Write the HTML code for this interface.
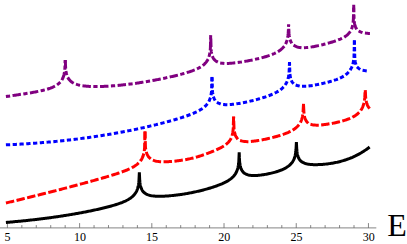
<!DOCTYPE html>
<html><head><meta charset="utf-8"><title>plot</title><style>
html,body{margin:0;padding:0;background:#fff;}
body{width:407px;height:244px;overflow:hidden;position:relative;font-family:"Liberation Serif",serif;}
</style></head><body>
<svg width="407" height="244" viewBox="0 0 407 244" style="position:absolute;left:0;top:0">
<g stroke="#666" stroke-width="0.8" fill="none">
<path d="M0,227.9 H376.3"/>
<path d="M7.40,227.9 v-4.8 M21.84,227.9 v-2.8 M36.28,227.9 v-2.8 M50.73,227.9 v-2.8 M65.17,227.9 v-2.8 M79.61,227.9 v-4.8 M94.05,227.9 v-2.8 M108.49,227.9 v-2.8 M122.94,227.9 v-2.8 M137.38,227.9 v-2.8 M151.82,227.9 v-4.8 M166.26,227.9 v-2.8 M180.70,227.9 v-2.8 M195.15,227.9 v-2.8 M209.59,227.9 v-2.8 M224.03,227.9 v-4.8 M238.47,227.9 v-2.8 M252.91,227.9 v-2.8 M267.36,227.9 v-2.8 M281.80,227.9 v-2.8 M296.24,227.9 v-4.8 M310.68,227.9 v-2.8 M325.12,227.9 v-2.8 M339.57,227.9 v-2.8 M354.01,227.9 v-2.8 M368.45,227.9 v-4.8"/>
</g>
<clipPath id="cl_purple"><path clip-rule="evenodd" d="M0,0H407V244H0ZM60.2,51.9h10v8h-10ZM205.7,26.7h10v8h-10ZM283.6,16.4h10v8h-10ZM348.7,-3.3h10v8h-10Z"/></clipPath>
<g clip-path="url(#cl_purple)" fill="none" stroke="#800080" stroke-width="3.0" stroke-linecap="square" stroke-linejoin="miter" stroke-miterlimit="10">
<path d="M7.4,96.34L8.4,96.2L9.4,96.05L10.4,95.91L11.4,95.76L12.4,95.62L13.4,95.47L14.4,95.33L15.4,95.18L16.4,95.03L17.4,94.88L18.4,94.73L19.4,94.58L20.4,94.43L21.4,94.28L22.4,94.12L23.4,93.97L24.4,93.81L25.4,93.65L26.4,93.49L27.4,93.33L28.4,93.16L29.4,92.99L30.4,92.82L31.4,92.65L32.4,92.47L33.4,92.29L34.4,92.11L35.4,91.92L36.4,91.72L37.4,91.53L38.4,91.32L39.4,91.11L40.4,90.89L41.4,90.67L42.4,90.44L43.4,90.2L44.4,89.94L45.4,89.68L46.4,89.4L47.4,89.11L48.4,88.8L49.4,88.47L50.4,88.12L51.4,87.74L52.4,87.33L53.4,86.89L54.4,86.4L55.4,85.87L56.4,85.27L57.4,84.6L58.4,83.84L59.4,82.96L60.4,81.91L61.4,80.63L61.75,80.11L62.4,78.99L62.75,78.28L63.4,76.66L63.45,76.52L63.95,74.8L64.35,72.89L64.4,72.59L64.65,70.81L64.85,68.74L65.25,60" stroke-dasharray="1.25 5.45 5.45 5.45" stroke-dashoffset="0.000"/>
<path d="M65.25,60L65.65,68.09L65.85,70.13L66.15,72.17L66.4,73.41L66.55,74.03L67.05,75.67L67.4,76.57L67.75,77.33L68.4,78.49L68.75,79.02L69.4,79.87L70.4,80.92L71.4,81.77L72.4,82.46L73.4,83.05L74.4,83.54L75.4,83.97L76.4,84.33L77.4,84.65L78.4,84.92L79.4,85.17L80.4,85.38L81.4,85.56L82.4,85.72L83.4,85.86L84.4,85.98L85.4,86.09L86.4,86.18L87.4,86.26L88.4,86.33L89.4,86.39L90.4,86.43L91.4,86.47L92.4,86.5L93.4,86.52L94.4,86.53L95.4,86.54L96.4,86.54L97.4,86.54L98.4,86.52L99.4,86.51L100.4,86.49L101.4,86.46L102.4,86.43L103.4,86.39L104.4,86.35L105.4,86.3L106.4,86.25L107.4,86.2L108.4,86.14L109.4,86.08L110.4,86.01L111.4,85.95L112.4,85.87L113.4,85.8L114.4,85.72L115.4,85.63L116.4,85.55L117.4,85.46L118.4,85.37L119.4,85.27L120.4,85.17L121.4,85.07L122.4,84.96L123.4,84.86L124.4,84.74L125.4,84.63L126.4,84.51L127.4,84.39L128.4,84.27L129.4,84.15L130.4,84.02L131.4,83.89L132.4,83.76L133.4,83.62L134.4,83.48L135.4,83.34L136.4,83.2L137.4,83.05L138.4,82.9L139.4,82.75L140.4,82.6L141.4,82.44L142.4,82.28L143.4,82.12L144.4,81.96L145.4,81.79L146.4,81.63L147.4,81.46L148.4,81.28L149.4,81.11L150.4,80.93L151.4,80.75L152.4,80.57L153.4,80.38L154.4,80.2L155.4,80.01L156.4,79.82L157.4,79.62L158.4,79.43L159.4,79.23L160.4,79.03L161.4,78.82L162.4,78.62L163.4,78.41L164.4,78.2L165.4,77.99L166.4,77.77L167.4,77.55L168.4,77.33L169.4,77.11L170.4,76.88L171.4,76.65L172.4,76.42L173.4,76.19L174.4,75.95L175.4,75.71L176.4,75.46L177.4,75.21L178.4,74.96L179.4,74.7L180.4,74.44L181.4,74.17L182.4,73.9L183.4,73.63L184.4,73.35L185.4,73.06L186.4,72.76L187.4,72.46L188.4,72.14L189.4,71.82L190.4,71.49L191.4,71.15L192.4,70.79L193.4,70.41L194.4,70.02L195.4,69.61L196.4,69.17L197.4,68.71L198.4,68.22L199.4,67.68L200.4,67.11L201.4,66.47L202.4,65.78L203.4,65L204.4,64.11L205.4,63.08L206.4,61.86L207.2,60.68L207.4,60.35L208.2,58.79L208.4,58.33L208.9,57L209.4,55.25L209.4,55.25L209.8,53.32L210.1,51.22L210.3,49.14L210.4,47.68L210.7,34.8" stroke-dasharray="1.25 5.45 5.45 5.45" stroke-dashoffset="5.100"/>
<path d="M210.7,34.8L211.1,49.24L211.3,51.23L211.4,51.99L211.6,53.21L212,54.97L212.4,56.23L212.5,56.5L213.2,58L213.4,58.34L214.2,59.46L214.4,59.69L215.4,60.65L216.4,61.36L217.4,61.91L218.4,62.33L219.4,62.65L220.4,62.9L221.4,63.09L222.4,63.23L223.4,63.33L224.4,63.39L225.4,63.43L226.4,63.44L227.4,63.43L228.4,63.39L229.4,63.35L230.4,63.28L231.4,63.21L232.4,63.12L233.4,63.02L234.4,62.92L235.4,62.8L236.4,62.68L237.4,62.55L238.4,62.41L239.4,62.27L240.4,62.12L241.4,61.97L242.4,61.81L243.4,61.65L244.4,61.48L245.4,61.31L246.4,61.13L247.4,60.95L248.4,60.76L249.4,60.57L250.4,60.37L251.4,60.17L252.4,59.97L253.4,59.76L254.4,59.54L255.4,59.32L256.4,59.09L257.4,58.86L258.4,58.63L259.4,58.38L260.4,58.13L261.4,57.87L262.4,57.61L263.4,57.34L264.4,57.06L265.4,56.76L266.4,56.46L267.4,56.15L268.4,55.82L269.4,55.48L270.4,55.13L271.4,54.75L272.4,54.36L273.4,53.94L274.4,53.5L275.4,53.02L276.4,52.52L277.4,51.97L278.4,51.37L279.4,50.71L280.4,49.99L281.4,49.18L282.4,48.25L283.4,47.18L284.4,45.9L285.1,44.84L285.4,44.32L286.1,42.91L286.4,42.2L286.8,41.09L287.3,39.33L287.4,38.9L287.7,37.38L288,35.26L288.2,33.18L288.4,29.65L288.6,24.5" stroke-dasharray="1.25 5.45 5.45 5.45" stroke-dashoffset="1.400"/>
<path d="M288.6,24.5L289,33.19L289.2,35.19L289.4,36.61L289.5,37.19L289.9,38.98L290.4,40.54L290.4,40.54L291.1,42.08L291.4,42.6L292.1,43.6L292.4,43.95L293.4,44.93L294.4,45.66L295.4,46.22L296.4,46.65L297.4,46.98L298.4,47.23L299.4,47.42L300.4,47.56L301.4,47.64L302.4,47.69L303.4,47.7L304.4,47.69L305.4,47.64L306.4,47.58L307.4,47.49L308.4,47.39L309.4,47.27L310.4,47.13L311.4,46.98L312.4,46.82L313.4,46.65L314.4,46.47L315.4,46.27L316.4,46.07L317.4,45.86L318.4,45.65L319.4,45.43L320.4,45.2L321.4,44.96L322.4,44.72L323.4,44.47L324.4,44.21L325.4,43.95L326.4,43.68L327.4,43.41L328.4,43.13L329.4,42.85L330.4,42.56L331.4,42.26L332.4,41.95L333.4,41.63L334.4,41.3L335.4,40.96L336.4,40.61L337.4,40.25L338.4,39.86L339.4,39.46L340.4,39.03L341.4,38.57L342.4,38.08L343.4,37.55L344.4,36.97L345.4,36.33L346.4,35.61L347.4,34.79L348.4,33.83L349.4,32.69L350.2,31.57L350.4,31.25L351.2,29.77L351.4,29.33L351.9,28.04L352.4,26.35L352.8,24.45L353.1,22.38L353.3,20.33L353.4,18.87L353.7,4.4" stroke-dasharray="1.25 5.45 5.45 5.45" stroke-dashoffset="1.000"/>
<path d="M353.7,4.4L354.1,19.94L354.3,21.9L354.4,22.63L354.6,23.82L355,25.52L355.4,26.73L355.5,26.98L356.2,28.39L356.4,28.7L357.2,29.73L357.4,29.94L358.4,30.79L359.4,31.41L360.4,31.89L361.4,32.25L362.4,32.53L363.4,32.76L364.4,32.94L365.4,33.08L366.4,33.21L367.4,33.31L368.4,33.4L368.45,33.4" stroke-dasharray="1.25 5.45 5.45 5.45" stroke-dashoffset="5.840"/>
</g>
<clipPath id="cl_blue"><path clip-rule="evenodd" d="M0,0H407V244H0ZM207.0,68.8h10v8h-10ZM284.5,53.9h10v8h-10ZM349.4,32.1h10v8h-10Z"/></clipPath>
<g clip-path="url(#cl_blue)" fill="none" stroke="#0000ff" stroke-width="3.0" stroke-linecap="square" stroke-linejoin="miter" stroke-miterlimit="10">
<path d="M7.4,144.79L8.4,144.74L9.4,144.7L10.4,144.65L11.4,144.61L12.4,144.56L13.4,144.51L14.4,144.46L15.4,144.41L16.4,144.36L17.4,144.3L18.4,144.25L19.4,144.19L20.4,144.13L21.4,144.08L22.4,144.02L23.4,143.96L24.4,143.9L25.4,143.84L26.4,143.77L27.4,143.71L28.4,143.64L29.4,143.58L30.4,143.51L31.4,143.44L32.4,143.37L33.4,143.3L34.4,143.23L35.4,143.15L36.4,143.08L37.4,143L38.4,142.93L39.4,142.85L40.4,142.77L41.4,142.69L42.4,142.61L43.4,142.53L44.4,142.44L45.4,142.36L46.4,142.27L47.4,142.18L48.4,142.1L49.4,142.01L50.4,141.91L51.4,141.82L52.4,141.73L53.4,141.64L54.4,141.54L55.4,141.44L56.4,141.34L57.4,141.25L58.4,141.14L59.4,141.04L60.4,140.94L61.4,140.84L62.4,140.73L63.4,140.62L64.4,140.52L65.4,140.41L66.4,140.3L67.4,140.18L68.4,140.07L69.4,139.96L70.4,139.84L71.4,139.72L72.4,139.61L73.4,139.49L74.4,139.37L75.4,139.24L76.4,139.12L77.4,139L78.4,138.87L79.4,138.74L80.4,138.61L81.4,138.48L82.4,138.35L83.4,138.22L84.4,138.09L85.4,137.95L86.4,137.81L87.4,137.68L88.4,137.54L89.4,137.4L90.4,137.26L91.4,137.11L92.4,136.97L93.4,136.82L94.4,136.67L95.4,136.52L96.4,136.37L97.4,136.22L98.4,136.07L99.4,135.92L100.4,135.76L101.4,135.6L102.4,135.44L103.4,135.28L104.4,135.12L105.4,134.96L106.4,134.79L107.4,134.63L108.4,134.46L109.4,134.29L110.4,134.12L111.4,133.95L112.4,133.78L113.4,133.6L114.4,133.43L115.4,133.25L116.4,133.07L117.4,132.89L118.4,132.71L119.4,132.52L120.4,132.34L121.4,132.15L122.4,131.96L123.4,131.77L124.4,131.58L125.4,131.39L126.4,131.2L127.4,131L128.4,130.8L129.4,130.6L130.4,130.4L131.4,130.2L132.4,130L133.4,129.79L134.4,129.59L135.4,129.38L136.4,129.17L137.4,128.95L138.4,128.74L139.4,128.53L140.4,128.31L141.4,128.09L142.4,127.87L143.4,127.65L144.4,127.42L145.4,127.2L146.4,126.97L147.4,126.74L148.4,126.51L149.4,126.28L150.4,126.04L151.4,125.81L152.4,125.57L153.4,125.33L154.4,125.09L155.4,124.84L156.4,124.6L157.4,124.35L158.4,124.1L159.4,123.85L160.4,123.59L161.4,123.34L162.4,123.08L163.4,122.82L164.4,122.55L165.4,122.29L166.4,122.02L167.4,121.75L168.4,121.48L169.4,121.2L170.4,120.92L171.4,120.64L172.4,120.36L173.4,120.07L174.4,119.78L175.4,119.49L176.4,119.19L177.4,118.89L178.4,118.59L179.4,118.28L180.4,117.97L181.4,117.65L182.4,117.33L183.4,117L184.4,116.67L185.4,116.33L186.4,115.98L187.4,115.63L188.4,115.27L189.4,114.9L190.4,114.52L191.4,114.13L192.4,113.73L193.4,113.31L194.4,112.88L195.4,112.43L196.4,111.96L197.4,111.46L198.4,110.94L199.4,110.39L200.4,109.8L201.4,109.17L202.4,108.49L203.4,107.74L204.4,106.92L205.4,105.99L206.4,104.94L207.4,103.71L208.4,102.22L208.5,102.05L209.4,100.32L209.5,100.09L210.2,98.24L210.4,97.59L210.7,96.46L211.1,94.5L211.4,92.37L211.6,90.28L212,76.8" stroke-dasharray="1.267 5.525" stroke-dashoffset="0.000"/>
<path d="M212,76.8L212.4,90.53L212.6,92.52L212.9,94.5L213.3,96.26L213.4,96.62L213.8,97.8L214.4,99.12L214.5,99.3L215.4,100.64L215.5,100.77L216.4,101.7L217.4,102.48L218.4,103.07L219.4,103.52L220.4,103.87L221.4,104.13L222.4,104.33L223.4,104.48L224.4,104.58L225.4,104.64L226.4,104.67L227.4,104.67L228.4,104.64L229.4,104.6L230.4,104.53L231.4,104.45L232.4,104.36L233.4,104.25L234.4,104.13L235.4,104L236.4,103.86L237.4,103.7L238.4,103.55L239.4,103.38L240.4,103.2L241.4,103.02L242.4,102.84L243.4,102.64L244.4,102.44L245.4,102.23L246.4,102.02L247.4,101.81L248.4,101.58L249.4,101.35L250.4,101.12L251.4,100.88L252.4,100.64L253.4,100.39L254.4,100.13L255.4,99.87L256.4,99.6L257.4,99.33L258.4,99.05L259.4,98.77L260.4,98.47L261.4,98.17L262.4,97.87L263.4,97.55L264.4,97.23L265.4,96.9L266.4,96.55L267.4,96.2L268.4,95.83L269.4,95.45L270.4,95.06L271.4,94.65L272.4,94.23L273.4,93.78L274.4,93.31L275.4,92.81L276.4,92.28L277.4,91.72L278.4,91.12L279.4,90.46L280.4,89.75L281.4,88.97L282.4,88.09L283.4,87.11L284.4,85.97L285.4,84.62L286,83.66L286.4,82.94L287,81.69L287.4,80.7L287.7,79.84L288.2,78.05L288.4,77.15L288.6,76.08L288.9,73.95L289.1,71.86L289.5,62" stroke-dasharray="1.242 5.416" stroke-dashoffset="5.192"/>
<path d="M289.5,62L289.9,73.25L290.1,75.21L290.4,77.14L290.8,78.85L291.3,80.31L291.4,80.55L292,81.72L292.4,82.33L293,83.06L293.4,83.47L294.4,84.27L295.4,84.85L296.4,85.28L297.4,85.6L298.4,85.84L299.4,86.02L300.4,86.14L301.4,86.22L302.4,86.26L303.4,86.27L304.4,86.26L305.4,86.23L306.4,86.17L307.4,86.1L308.4,86.01L309.4,85.91L310.4,85.79L311.4,85.65L312.4,85.51L313.4,85.35L314.4,85.18L315.4,85L316.4,84.81L317.4,84.62L318.4,84.41L319.4,84.2L320.4,83.98L321.4,83.76L322.4,83.52L323.4,83.29L324.4,83.04L325.4,82.8L326.4,82.54L327.4,82.28L328.4,82.02L329.4,81.74L330.4,81.47L331.4,81.18L332.4,80.89L333.4,80.58L334.4,80.26L335.4,79.92L336.4,79.57L337.4,79.19L338.4,78.8L339.4,78.37L340.4,77.92L341.4,77.43L342.4,76.89L343.4,76.31L344.4,75.68L345.4,74.97L346.4,74.19L347.4,73.3L348.4,72.28L349.4,71.1L350.4,69.69L350.9,68.86L351.4,67.92L351.9,66.83L352.4,65.53L352.6,64.92L353.1,63.1L353.4,61.66L353.5,61.09L353.8,58.94L354,56.82L354.4,40.1" stroke-dasharray="1.215 5.299" stroke-dashoffset="6.052"/>
<path d="M354.4,40.1L354.8,58.07L355,60.02L355.3,61.93L355.4,62.42L355.7,63.62L356.2,65.05L356.4,65.5L356.9,66.43L357.4,67.15L357.9,67.72L358.4,68.2L359.4,68.94L360.4,69.47L361.4,69.87L362.4,70.17L363.4,70.41L364.4,70.59L365.4,70.73L366.4,70.84L367.4,70.92L368.4,71L368.45,71" stroke-dasharray="1.25 5.45" stroke-dashoffset="5.025"/>
</g>
<clipPath id="cl_red"><path clip-rule="evenodd" d="M0,0H407V244H0ZM140.0,123.2h10v8h-10ZM228.6,108.4h10v8h-10ZM298.5,95.6h10v8h-10ZM360.2,80.8h10v8h-10Z"/></clipPath>
<g clip-path="url(#cl_red)" fill="none" stroke="#ff0000" stroke-width="3.0" stroke-linecap="square" stroke-linejoin="miter" stroke-miterlimit="10">
<path d="M7.4,202.63L8.4,202.39L9.4,202.15L10.4,201.91L11.4,201.67L12.4,201.43L13.4,201.19L14.4,200.94L15.4,200.7L16.4,200.46L17.4,200.22L18.4,199.97L19.4,199.73L20.4,199.48L21.4,199.24L22.4,199L23.4,198.75L24.4,198.5L25.4,198.26L26.4,198.01L27.4,197.77L28.4,197.52L29.4,197.27L30.4,197.03L31.4,196.78L32.4,196.53L33.4,196.28L34.4,196.03L35.4,195.78L36.4,195.54L37.4,195.29L38.4,195.04L39.4,194.78L40.4,194.53L41.4,194.28L42.4,194.03L43.4,193.78L44.4,193.53L45.4,193.28L46.4,193.02L47.4,192.77L48.4,192.52L49.4,192.26L50.4,192.01L51.4,191.75L52.4,191.5L53.4,191.24L54.4,190.99L55.4,190.73L56.4,190.47L57.4,190.21L58.4,189.96L59.4,189.7L60.4,189.44L61.4,189.18L62.4,188.92L63.4,188.66L64.4,188.4L65.4,188.14L66.4,187.88L67.4,187.62L68.4,187.36L69.4,187.09L70.4,186.83L71.4,186.57L72.4,186.3L73.4,186.04L74.4,185.77L75.4,185.51L76.4,185.24L77.4,184.97L78.4,184.71L79.4,184.44L80.4,184.17L81.4,183.9L82.4,183.63L83.4,183.36L84.4,183.09L85.4,182.82L86.4,182.54L87.4,182.27L88.4,182L89.4,181.72L90.4,181.45L91.4,181.17L92.4,180.89L93.4,180.61L94.4,180.34L95.4,180.06L96.4,179.77L97.4,179.49L98.4,179.21L99.4,178.92L100.4,178.64L101.4,178.35L102.4,178.06L103.4,177.77L104.4,177.48L105.4,177.19L106.4,176.89L107.4,176.6L108.4,176.3L109.4,176L110.4,175.7L111.4,175.39L112.4,175.08L113.4,174.77L114.4,174.45L115.4,174.14L116.4,173.81L117.4,173.49L118.4,173.15L119.4,172.82L120.4,172.47L121.4,172.12L122.4,171.76L123.4,171.4L124.4,171.02L125.4,170.64L126.4,170.24L127.4,169.82L128.4,169.39L129.4,168.94L130.4,168.47L131.4,167.98L132.4,167.45L133.4,166.89L134.4,166.28L135.4,165.63L136.4,164.91L137.4,164.12L138.4,163.23L139.4,162.21L140.4,161.02L141.4,159.57L141.5,159.4L142.4,157.7L142.5,157.48L143.2,155.66L143.4,155.02L143.7,153.9L144.1,151.95L144.4,149.84L144.6,147.76L145,131" stroke-dasharray="5.45 5.45" stroke-dashoffset="0.000"/>
<path d="M145,131L145.4,146.04L145.6,148.06L145.9,150.08L146.3,151.91L146.4,152.27L146.8,153.51L147.4,154.91L147.5,155.11L148.4,156.57L148.5,156.7L149.4,157.75L150.4,158.64L151.4,159.34L152.4,159.89L153.4,160.34L154.4,160.69L155.4,160.98L156.4,161.21L157.4,161.39L158.4,161.52L159.4,161.63L160.4,161.7L161.4,161.75L162.4,161.78L163.4,161.79L164.4,161.78L165.4,161.76L166.4,161.73L167.4,161.69L168.4,161.64L169.4,161.58L170.4,161.51L171.4,161.44L172.4,161.35L173.4,161.26L174.4,161.17L175.4,161.07L176.4,160.96L177.4,160.84L178.4,160.71L179.4,160.58L180.4,160.45L181.4,160.3L182.4,160.15L183.4,159.99L184.4,159.82L185.4,159.65L186.4,159.46L187.4,159.27L188.4,159.07L189.4,158.86L190.4,158.64L191.4,158.41L192.4,158.18L193.4,157.93L194.4,157.67L195.4,157.4L196.4,157.12L197.4,156.82L198.4,156.52L199.4,156.21L200.4,155.89L201.4,155.57L202.4,155.23L203.4,154.89L204.4,154.54L205.4,154.18L206.4,153.82L207.4,153.44L208.4,153.07L209.4,152.68L210.4,152.29L211.4,151.9L212.4,151.49L213.4,151.08L214.4,150.66L215.4,150.23L216.4,149.79L217.4,149.34L218.4,148.87L219.4,148.38L220.4,147.88L221.4,147.35L222.4,146.79L223.4,146.2L224.4,145.56L225.4,144.86L226.4,144.09L227.4,143.23L228.4,142.23L229.4,141.04L230.1,140.04L230.4,139.56L231.1,138.24L231.4,137.56L231.8,136.51L232.3,134.82L232.4,134.41L232.7,132.93L233,130.87L233.2,128.81L233.6,116.8" stroke-dasharray="5.45 5.45" stroke-dashoffset="10.210"/>
<path d="M233.6,116.8L234,128.14L234.2,130.12L234.4,131.51L234.5,132.08L234.9,133.82L235.4,135.32L236.1,136.79L236.4,137.27L237.1,138.2L237.4,138.53L238.4,139.4L239.4,140.05L240.4,140.53L241.4,140.89L242.4,141.15L243.4,141.35L244.4,141.48L245.4,141.57L246.4,141.62L247.4,141.63L248.4,141.62L249.4,141.57L250.4,141.51L251.4,141.43L252.4,141.33L253.4,141.22L254.4,141.1L255.4,140.96L256.4,140.82L257.4,140.66L258.4,140.5L259.4,140.33L260.4,140.15L261.4,139.96L262.4,139.77L263.4,139.57L264.4,139.37L265.4,139.16L266.4,138.95L267.4,138.73L268.4,138.5L269.4,138.27L270.4,138.03L271.4,137.79L272.4,137.54L273.4,137.29L274.4,137.03L275.4,136.76L276.4,136.49L277.4,136.21L278.4,135.92L279.4,135.62L280.4,135.31L281.4,134.99L282.4,134.66L283.4,134.32L284.4,133.96L285.4,133.59L286.4,133.2L287.4,132.79L288.4,132.36L289.4,131.9L290.4,131.41L291.4,130.89L292.4,130.32L293.4,129.71L294.4,129.03L295.4,128.29L296.4,127.45L297.4,126.51L298.4,125.41L299.4,124.1L300,123.16L300.4,122.46L301,121.23L301.4,120.25L301.7,119.4L302.2,117.64L302.4,116.74L302.6,115.68L302.9,113.57L303.1,111.48L303.5,104.2" stroke-dasharray="5.45 5.45" stroke-dashoffset="5.390"/>
<path d="M303.5,104.2L303.9,112.06L304.1,114.03L304.4,115.97L304.8,117.69L305.3,119.16L305.4,119.4L306,120.59L306.4,121.21L307,121.95L307.4,122.36L308.4,123.17L309.4,123.76L310.4,124.19L311.4,124.52L312.4,124.75L313.4,124.92L314.4,125.03L315.4,125.1L316.4,125.13L317.4,125.13L318.4,125.11L319.4,125.06L320.4,125L321.4,124.92L322.4,124.82L323.4,124.71L324.4,124.59L325.4,124.46L326.4,124.32L327.4,124.18L328.4,124.02L329.4,123.86L330.4,123.69L331.4,123.51L332.4,123.32L333.4,123.13L334.4,122.92L335.4,122.72L336.4,122.5L337.4,122.27L338.4,122.04L339.4,121.79L340.4,121.54L341.4,121.27L342.4,121L343.4,120.71L344.4,120.4L345.4,120.08L346.4,119.75L347.4,119.39L348.4,119.01L349.4,118.61L350.4,118.18L351.4,117.72L352.4,117.23L353.4,116.7L354.4,116.11L355.4,115.48L356.4,114.77L357.4,113.99L358.4,113.1L359.4,112.09L360.4,110.9L361.4,109.47L361.7,108.98L362.4,107.66L362.7,107.01L363.4,105.14L363.9,103.35L364.3,101.38L364.4,100.75L364.6,99.24L364.8,97.15L365.2,88.7" stroke-dasharray="5.382 5.382" stroke-dashoffset="8.167"/>
<path d="M365.2,88.7L365.6,96.6L365.8,98.62L366.1,100.65L366.4,102.08L366.5,102.48L367,104.1L367.4,105.09L367.7,105.72L368.4,106.92L368.45,107L368.7,107.36" stroke-dasharray="5.45 5.45" stroke-dashoffset="8.000"/>
</g>
<path d="M7.4,222.32L8.4,222.23L9.4,222.15L10.4,222.06L11.4,221.97L12.4,221.89L13.4,221.8L14.4,221.71L15.4,221.61L16.4,221.52L17.4,221.43L18.4,221.33L19.4,221.24L20.4,221.14L21.4,221.04L22.4,220.94L23.4,220.84L24.4,220.74L25.4,220.64L26.4,220.53L27.4,220.43L28.4,220.32L29.4,220.21L30.4,220.1L31.4,219.99L32.4,219.88L33.4,219.77L34.4,219.66L35.4,219.54L36.4,219.42L37.4,219.31L38.4,219.19L39.4,219.07L40.4,218.95L41.4,218.82L42.4,218.7L43.4,218.57L44.4,218.45L45.4,218.32L46.4,218.19L47.4,218.06L48.4,217.92L49.4,217.79L50.4,217.65L51.4,217.52L52.4,217.38L53.4,217.24L54.4,217.1L55.4,216.96L56.4,216.81L57.4,216.67L58.4,216.52L59.4,216.37L60.4,216.22L61.4,216.07L62.4,215.92L63.4,215.76L64.4,215.6L65.4,215.45L66.4,215.29L67.4,215.13L68.4,214.96L69.4,214.8L70.4,214.63L71.4,214.46L72.4,214.29L73.4,214.12L74.4,213.95L75.4,213.78L76.4,213.6L77.4,213.42L78.4,213.24L79.4,213.06L80.4,212.87L81.4,212.69L82.4,212.5L83.4,212.31L84.4,212.12L85.4,211.92L86.4,211.73L87.4,211.53L88.4,211.33L89.4,211.13L90.4,210.92L91.4,210.72L92.4,210.51L93.4,210.29L94.4,210.08L95.4,209.86L96.4,209.64L97.4,209.42L98.4,209.2L99.4,208.97L100.4,208.74L101.4,208.5L102.4,208.27L103.4,208.02L104.4,207.78L105.4,207.53L106.4,207.28L107.4,207.02L108.4,206.76L109.4,206.49L110.4,206.22L111.4,205.94L112.4,205.66L113.4,205.37L114.4,205.07L115.4,204.77L116.4,204.45L117.4,204.13L118.4,203.8L119.4,203.45L120.4,203.09L121.4,202.72L122.4,202.33L123.4,201.91L124.4,201.48L125.4,201.02L126.4,200.53L127.4,200.01L128.4,199.45L129.4,198.83L130.4,198.16L131.4,197.41L132.4,196.58L133.4,195.63L134.4,194.51L135.4,193.18L135.85,192.48L136.4,191.5L136.85,190.56L137.4,189.19L137.55,188.75L138.05,186.99L138.4,185.33L138.45,185.05L138.75,182.94L138.95,180.86L139.35,172.3L139.75,180.74L139.95,182.74L140.25,184.74L140.4,185.5L140.65,186.54L141.15,188.11L141.4,188.73L141.85,189.66L142.4,190.58L142.85,191.21L143.4,191.86L144.4,192.8L145.4,193.53L146.4,194.1L147.4,194.57L148.4,194.94L149.4,195.25L150.4,195.5L151.4,195.71L152.4,195.87L153.4,196L154.4,196.1L155.4,196.18L156.4,196.24L157.4,196.27L158.4,196.29L159.4,196.3L160.4,196.29L161.4,196.28L162.4,196.25L163.4,196.21L164.4,196.16L165.4,196.11L166.4,196.04L167.4,195.98L168.4,195.9L169.4,195.82L170.4,195.73L171.4,195.63L172.4,195.53L173.4,195.43L174.4,195.32L175.4,195.2L176.4,195.08L177.4,194.96L178.4,194.83L179.4,194.69L180.4,194.55L181.4,194.41L182.4,194.26L183.4,194.11L184.4,193.95L185.4,193.78L186.4,193.61L187.4,193.44L188.4,193.26L189.4,193.08L190.4,192.89L191.4,192.7L192.4,192.5L193.4,192.29L194.4,192.08L195.4,191.86L196.4,191.64L197.4,191.41L198.4,191.18L199.4,190.94L200.4,190.7L201.4,190.45L202.4,190.19L203.4,189.93L204.4,189.66L205.4,189.39L206.4,189.11L207.4,188.83L208.4,188.54L209.4,188.24L210.4,187.94L211.4,187.63L212.4,187.31L213.4,186.99L214.4,186.65L215.4,186.31L216.4,185.96L217.4,185.6L218.4,185.22L219.4,184.84L220.4,184.44L221.4,184.03L222.4,183.6L223.4,183.14L224.4,182.67L225.4,182.17L226.4,181.64L227.4,181.08L228.4,180.48L229.4,179.82L230.4,179.11L231.4,178.32L232.4,177.44L233.4,176.44L234.4,175.27L235.4,173.87L235.7,173.38L236.4,172.09L236.7,171.45L237.4,169.62L237.4,169.62L237.9,167.85L238.3,165.9L238.4,165.28L238.6,163.78L238.8,161.7L239.2,152.2L239.4,157.9L239.6,161.34L239.8,163.33L240.1,165.31L240.4,166.7L240.5,167.08L241,168.61L241.4,169.54L241.7,170.12L242.4,171.21L242.7,171.59L243.4,172.35L244.4,173.18L245.4,173.8L246.4,174.28L247.4,174.65L248.4,174.94L249.4,175.15L250.4,175.31L251.4,175.42L252.4,175.49L253.4,175.53L254.4,175.54L255.4,175.52L256.4,175.47L257.4,175.41L258.4,175.33L259.4,175.23L260.4,175.12L261.4,175L262.4,174.86L263.4,174.71L264.4,174.55L265.4,174.38L266.4,174.19L267.4,174L268.4,173.8L269.4,173.58L270.4,173.36L271.4,173.12L272.4,172.88L273.4,172.62L274.4,172.35L275.4,172.07L276.4,171.77L277.4,171.45L278.4,171.12L279.4,170.77L280.4,170.4L281.4,170.01L282.4,169.58L283.4,169.13L284.4,168.64L285.4,168.11L286.4,167.52L287.4,166.88L288.4,166.17L289.4,165.36L290.4,164.43L291.4,163.35L292.4,162.05L292.9,161.28L293.4,160.41L293.9,159.39L294.4,158.15L294.6,157.58L295.1,155.83L295.4,154.44L295.5,153.89L295.8,151.79L296,149.71L296.4,142.2L296.8,149.76L297,151.75L297.3,153.73L297.4,154.24L297.7,155.5L298.2,157.04L298.4,157.52L298.9,158.55L299.4,159.36L299.9,160.03L300.4,160.6L301.4,161.5L302.4,162.19L303.4,162.73L304.4,163.17L305.4,163.51L306.4,163.79L307.4,164.02L308.4,164.2L309.4,164.34L310.4,164.45L311.4,164.54L312.4,164.6L313.4,164.64L314.4,164.67L315.4,164.68L316.4,164.67L317.4,164.65L318.4,164.62L319.4,164.58L320.4,164.53L321.4,164.46L322.4,164.39L323.4,164.31L324.4,164.22L325.4,164.12L326.4,164.01L327.4,163.89L328.4,163.76L329.4,163.62L330.4,163.47L331.4,163.32L332.4,163.15L333.4,162.98L334.4,162.79L335.4,162.59L336.4,162.38L337.4,162.17L338.4,161.93L339.4,161.69L340.4,161.44L341.4,161.17L342.4,160.89L343.4,160.6L344.4,160.3L345.4,159.98L346.4,159.64L347.4,159.29L348.4,158.93L349.4,158.55L350.4,158.16L351.4,157.75L352.4,157.33L353.4,156.88L354.4,156.42L355.4,155.95L356.4,155.45L357.4,154.94L358.4,154.41L359.4,153.86L360.4,153.29L361.4,152.7L362.4,152.09L363.4,151.46L364.4,150.81L365.4,150.13L366.4,149.44L367.4,148.72L368.4,147.98L368.45,147.94" fill="none" stroke="#000000" stroke-width="3.0" stroke-linecap="square" stroke-linejoin="miter" stroke-miterlimit="10"/>
<g font-family="&quot;Liberation Serif&quot;, serif" font-size="12" fill="#000" text-anchor="middle">
<text x="7.4" y="240.8">5</text>
<text x="79.9" y="240.8">10</text>
<text x="152.1" y="240.8">15</text>
<text x="224.3" y="240.8">20</text>
<text x="296.5" y="240.8">25</text>
<text x="368.7" y="240.8">30</text>
</g>
<text x="387.2" y="235.5" font-family="&quot;Liberation Serif&quot;, serif" font-size="32" fill="#000">E</text>
</svg>
</body></html>
